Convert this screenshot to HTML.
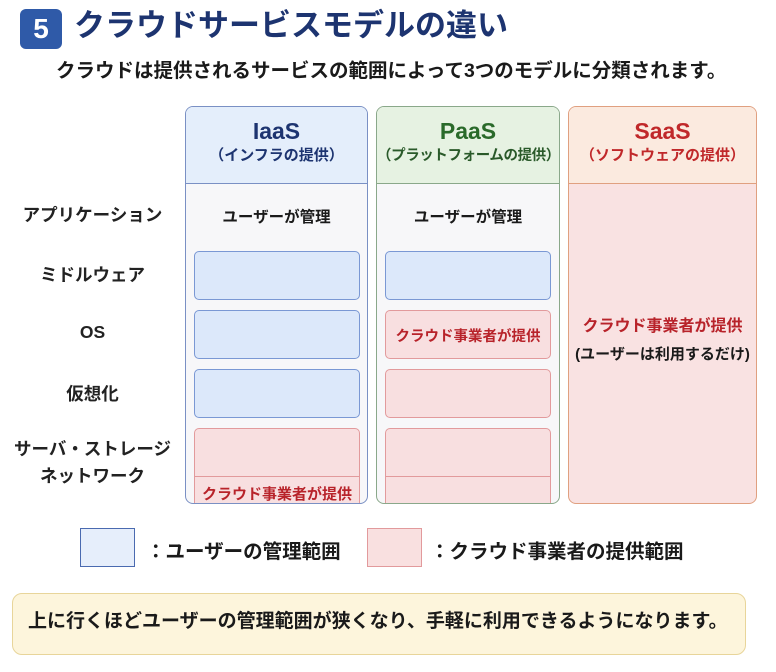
<!DOCTYPE html>
<html><head><meta charset="utf-8"><style>
*{margin:0;padding:0;box-sizing:border-box}
body{width:776px;height:672px;background:#fff;position:relative;overflow:hidden;font-family:"Liberation Sans","Noto Sans CJK JP",sans-serif;color:#1a1a1a}
.a{position:absolute;white-space:nowrap}
.col{position:absolute;top:106px;height:398px;border:1.5px solid;border-radius:8px;overflow:hidden;background:#f7f7f9}
.hd{position:absolute;left:0;right:0;top:0;height:77px;border-bottom:1.5px solid;text-align:center}
.hd .t{font-size:23px;font-weight:bold;margin-top:10px;line-height:28px}
.hd .s{font-size:15px;font-weight:bold;line-height:22px;white-space:nowrap}
.bx{position:absolute;border:1.5px solid;border-radius:5px}
.b{background:#dce8fa;border-color:#7a98d4}
.r{background:#f8dfe0;border-color:#e29a9c}
.lbl{position:absolute;width:185px;left:0;text-align:center;font-size:17.5px;font-weight:bold;color:#222}
.red{color:#b8232a;font-weight:bold;font-size:14.5px;text-align:center;white-space:nowrap}
</style></head><body>
<div class="a" style="left:20px;top:9px;width:42px;height:40px;background:#2f5aa8;border-radius:6px;color:#fff;font-size:28px;font-weight:bold;text-align:center;line-height:40px">5</div>
<div class="a" style="left:74px;top:4px;font-size:31px;font-weight:bold;color:#1d3470;line-height:44px">クラウドサービスモデルの違い</div>
<div class="a" style="left:56px;top:57px;font-size:19.5px;font-weight:bold;line-height:28px">クラウドは提供されるサービスの範囲によって3つのモデルに分類されます。</div>

<div class="lbl" style="top:202px">アプリケーション</div>
<div class="lbl" style="top:262px">ミドルウェア</div>
<div class="lbl" style="top:322px">OS</div>
<div class="lbl" style="top:381px">仮想化</div>
<div class="lbl" style="top:436px;line-height:27px">サーバ・ストレージ<br>ネットワーク</div>

<div class="col" style="left:185px;width:183px;border-color:#7a90c4">
<div class="hd" style="background:#e4eefb;border-color:#7a90c4"><div class="t" style="color:#1d3470">IaaS</div><div class="s" style="color:#1d3470">（インフラの提供）</div></div>
<div class="a" style="top:98px;left:0;right:0;text-align:center;font-size:15.5px;font-weight:bold">ユーザーが管理</div>
<div class="bx b" style="left:8px;width:166px;top:144px;height:49px"></div>
<div class="bx b" style="left:8px;width:166px;top:203px;height:49px"></div>
<div class="bx b" style="left:8px;width:166px;top:262px;height:49px"></div>
<div class="bx r" style="left:8px;width:166px;top:321px;height:90px"></div>
<div class="a" style="left:9px;width:164px;top:369px;border-top:1.5px solid #e29a9c"></div>
<div class="a red" style="left:8px;width:166px;top:376px;font-size:15px">クラウド事業者が提供</div>
</div>

<div class="col" style="left:376px;width:184px;border-color:#8aa88a">
<div class="hd" style="background:#e6f2e2;border-color:#8aa88a"><div class="t" style="color:#2a6a2a">PaaS</div><div class="s" style="color:#2a5a2a;font-size:14.5px;letter-spacing:-0.4px">（プラットフォームの提供）</div></div>
<div class="a" style="top:98px;left:0;right:0;text-align:center;font-size:15.5px;font-weight:bold">ユーザーが管理</div>
<div class="bx b" style="left:8px;width:166px;top:144px;height:49px"></div>
<div class="bx r" style="left:8px;width:166px;top:203px;height:49px"><div class="red" style="margin-top:14px">クラウド事業者が提供</div></div>
<div class="bx r" style="left:8px;width:166px;top:262px;height:49px"></div>
<div class="bx r" style="left:8px;width:166px;top:321px;height:90px"></div>
<div class="a" style="left:9px;width:164px;top:369px;border-top:1.5px solid #e29a9c"></div>
</div>

<div class="col" style="left:568px;width:189px;border-color:#e0a080;background:#f9e2e2">
<div class="hd" style="background:#fbeadf;border-color:#e0a080"><div class="t" style="color:#c0282a">SaaS</div><div class="s" style="color:#c0282a">（ソフトウェアの提供）</div></div>
<div class="a red" style="left:0;right:0;top:205px;font-size:16px">クラウド事業者が提供</div>
<div class="a" style="left:0;right:0;top:236px;text-align:center;font-size:15px;font-weight:bold">(ユーザーは利用するだけ)</div>
</div>

<div class="a" style="left:80px;top:528px;width:55px;height:39px;background:#e6eefb;border:1.5px solid #4a6ab0"></div>
<div class="a" style="left:146px;top:535px;font-size:19.5px;font-weight:bold">：ユーザーの管理範囲</div>
<div class="a" style="left:367px;top:528px;width:55px;height:39px;background:#f9e0e0;border:1.5px solid #e29a9c"></div>
<div class="a" style="left:430px;top:535px;font-size:19.5px;font-weight:bold">：クラウド事業者の提供範囲</div>

<div class="a" style="left:12px;top:593px;width:734px;height:62px;background:#fdf5dc;border:1.5px solid #e8d59a;border-radius:10px"></div>
<div class="a" style="left:28px;top:609px;font-size:19px;font-weight:bold;line-height:26px">上に行くほどユーザーの管理範囲が狭くなり、手軽に利用できるようになります。</div>
</body></html>
